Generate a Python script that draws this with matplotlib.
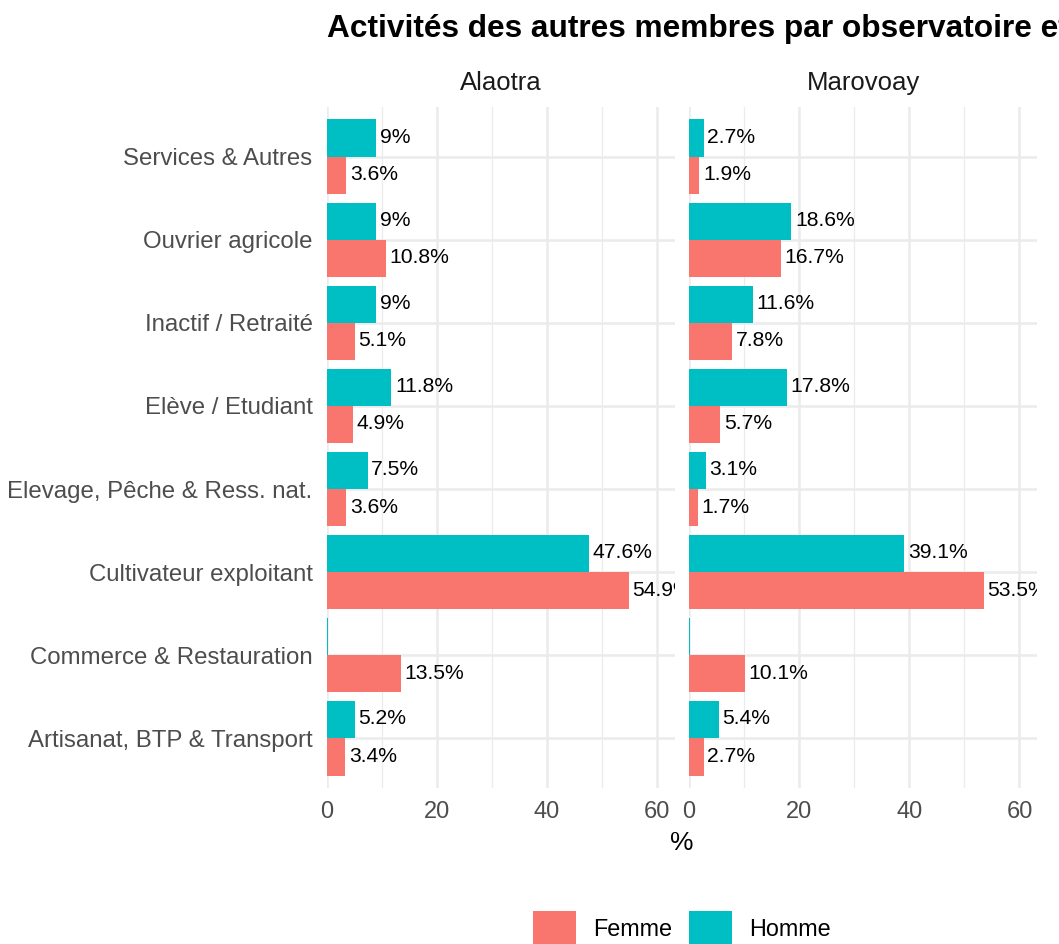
import matplotlib
matplotlib.use("Agg")
import matplotlib.pyplot as plt
from matplotlib.patches import Patch

plt.rcParams['font.family'] = ['Liberation Sans', 'DejaVu Sans']

# data, categories listed from top to bottom
categories = ["Services & Autres", "Ouvrier agricole", "Inactif / Retraité",
              "Elève / Etudiant", "Elevage, Pêche & Ress. nat.",
              "Cultivateur exploitant", "Commerce & Restauration",
              "Artisanat, BTP & Transport"]
observatoires = ["Alaotra", "Marovoay"]
homme = {
    "Alaotra":  [9.0, 9.0, 9.0, 11.8, 7.5, 47.6, 0.25, 5.2],
    "Marovoay": [2.7, 18.6, 11.6, 17.8, 3.1, 39.1, 0.25, 5.4],
}
femme = {
    "Alaotra":  [3.6, 10.8, 5.1, 4.9, 3.6, 54.9, 13.5, 3.4],
    "Marovoay": [1.9, 16.7, 7.8, 5.7, 1.7, 53.5, 10.1, 2.7],
}
xticks = [0, 20, 40, 60]

col_femme = "#F8766D"
col_homme = "#00BFC4"
grid_col = "#EBEBEB"

W, H = 1059, 944
fig = plt.figure(figsize=(W / 100, H / 100), dpi=100)

n = len(categories)
ypos = list(range(n, 0, -1))   # top category gets highest position
bar_h = 0.45

panel_lefts = [326.5, 689.0]
panel_w = 348.1
panel_top, panel_bot = 107, 788

axes = []
for i, obs in enumerate(observatoires):
    ax = fig.add_axes([panel_lefts[i] / W, 1 - panel_bot / H,
                       panel_w / W, (panel_bot - panel_top) / H])
    axes.append(ax)
    ax.set_xlim(0, 63.2)
    ax.set_ylim(0.4, n + 0.6)
    for s in ax.spines.values():
        s.set_visible(False)

    # grid
    for v in [10, 30, 50]:
        ax.axvline(v, color=grid_col, lw=0.9, zorder=0)
    for v in xticks:
        ax.axvline(v, color=grid_col, lw=1.8, zorder=0)
    for y in ypos:
        ax.axhline(y, color=grid_col, lw=1.8, zorder=0)

    yh = [y + bar_h / 2 for y in ypos]
    yf = [y - bar_h / 2 for y in ypos]
    ax.barh(yh, homme[obs], height=bar_h, color=col_homme, zorder=2)
    ax.barh(yf, femme[obs], height=bar_h, color=col_femme, zorder=2)

    for vals, ys in [(homme[obs], yh), (femme[obs], yf)]:
        for v, y in zip(vals, ys):
            if v < 1:
                continue
            ax.annotate(f"{v:g}%", (v, y), xytext=(2.5, 0.5), textcoords="offset points",
                        ha="left", va="center", fontsize=15.2, color="black",
                        annotation_clip=True, clip_on=True, zorder=3)

    ax.set_xticks(xticks)
    ax.set_xticklabels([str(t) for t in xticks])
    ax.tick_params(axis="x", length=0, pad=9, labelsize=17, labelcolor="#4D4D4D")
    ax.set_yticks(ypos)
    if i == 0:
        ax.set_yticklabels(categories)
        ax.tick_params(axis="y", length=0, pad=10, labelsize=17.3, labelcolor="#4D4D4D")
    else:
        ax.set_yticklabels([])
        ax.tick_params(axis="y", length=0)

    ax.text(0.5, 1 + 24 / (panel_bot - panel_top), obs, transform=ax.transAxes,
            ha="center", va="center", fontsize=18.5, color="#1A1A1A")

fig.text(327 / W, 1 - 29 / H, "Activités des autres membres par observatoire et sexe",
         ha="left", va="center", fontsize=22.8, fontweight="bold", color="black")
fig.text(682 / W, 1 - 843 / H, "%", ha="center", va="center", fontsize=19, color="black")

handles = [Patch(facecolor=col_femme, label="Femme"),
           Patch(facecolor=col_homme, label="Homme")]
fig.legend(handles=handles, loc="center", bbox_to_anchor=(682 / W, 1 - 929 / H),
           ncol=2, frameon=False, fontsize=16.8, handlelength=1.85, handleheight=1.95,
           handletextpad=0.73, columnspacing=0.73, borderpad=0, borderaxespad=0)

fig.savefig("out.png", dpi=100, facecolor="white")
